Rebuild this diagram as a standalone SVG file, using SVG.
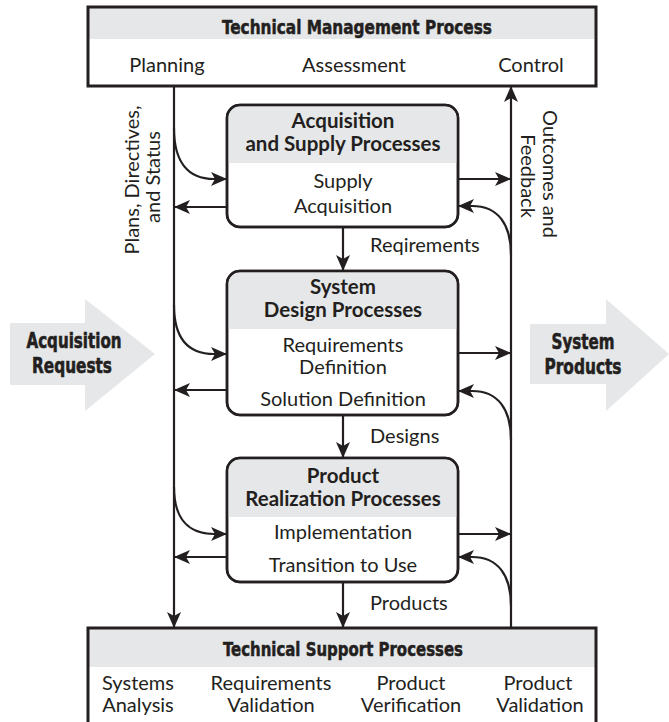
<svg xmlns="http://www.w3.org/2000/svg" width="669" height="722" viewBox="0 0 669 722">
<style>
.t{font-family:Lato,"Open Sans","Liberation Sans",sans-serif;font-size:20px;fill:#231f20}
.b{font-family:Lato,"Open Sans","Liberation Sans",sans-serif;font-size:20.5px;font-weight:bold;fill:#231f20}
.c{font-family:"DejaVu Sans Condensed","DejaVu Sans",sans-serif;font-stretch:condensed;font-size:20px;font-weight:bold;fill:#231f20;stroke:#231f20;stroke-width:0.5}
.big{font-family:"DejaVu Sans Condensed","DejaVu Sans",sans-serif;font-stretch:condensed;font-size:22px;font-weight:bold;fill:#231f20;stroke:#231f20;stroke-width:0.6}
.box{fill:none;stroke:#231f20;stroke-width:3}
.rbox{fill:#fff;stroke:#231f20;stroke-width:2.5}
.g{fill:#e6e7e8}
.ln{fill:none;stroke:#231f20;stroke-width:2.2}
</style>
<defs>
<marker id="ah" markerUnits="userSpaceOnUse" markerWidth="16" markerHeight="14" viewBox="0 0 16 14" refX="15" refY="7" orient="auto">
<path d="M0,0 L16,7 L0,14 L4,7 Z" fill="#231f20"/>
</marker>
</defs>

<g id="acq-requests">
<path class="g" d="M10,323 H85 V299 L155,354 L85,411 V385 H10 Z"/>
<text class="big" x="74" y="348" text-anchor="middle" textLength="95" lengthAdjust="spacingAndGlyphs">Acquisition</text>
<text class="big" x="72" y="373" text-anchor="middle" textLength="80" lengthAdjust="spacingAndGlyphs">Requests</text>
</g>

<g id="system-products">
<path class="g" d="M530,324 H606 V299 L669,354 L606,411 V384 H530 Z"/>
<text class="big" x="583" y="349" text-anchor="middle" textLength="63" lengthAdjust="spacingAndGlyphs">System</text>
<text class="big" x="583" y="374" text-anchor="middle" textLength="77" lengthAdjust="spacingAndGlyphs">Products</text>
</g>

<g id="tech-mgmt">
<rect class="g" x="88" y="7" width="508" height="32"/>
<rect fill="#fff" x="88" y="39" width="508" height="47"/>
<rect class="box" x="88" y="7" width="508" height="79"/>
<text class="c" x="357" y="34" text-anchor="middle" textLength="270" lengthAdjust="spacingAndGlyphs">Technical Management Process</text>
<text class="t" x="167" y="72" text-anchor="middle">Planning</text>
<text class="t" x="354" y="72" text-anchor="middle">Assessment</text>
<text class="t" x="531" y="72" text-anchor="middle">Control</text>
</g>

<g id="tech-support">
<rect class="g" x="88" y="628" width="508" height="39"/>
<rect fill="#fff" x="88" y="667" width="508" height="60"/>
<rect class="box" x="88" y="628" width="508" height="100"/>
<text class="c" x="343" y="656" text-anchor="middle" textLength="240" lengthAdjust="spacingAndGlyphs">Technical Support Processes</text>
<text class="t" x="138" y="690" text-anchor="middle">Systems</text>
<text class="t" x="138" y="712" text-anchor="middle">Analysis</text>
<text class="t" x="271" y="690" text-anchor="middle">Requirements</text>
<text class="t" x="271" y="712" text-anchor="middle">Validation</text>
<text class="t" x="411" y="690" text-anchor="middle">Product</text>
<text class="t" x="411" y="712" text-anchor="middle">Verification</text>
<text class="t" x="538" y="690" text-anchor="middle">Product</text>
<text class="t" x="540" y="712" text-anchor="middle">Validation</text>
</g>

<g id="acq-supply">
<rect class="rbox" x="227" y="105" width="231" height="122" rx="13"/>
<path class="g" d="M228.3,163 V118 A11.7,11.7 0 0 1 240,106.3 H445 A11.7,11.7 0 0 1 456.7,118 V163 Z"/>
<rect class="rbox" style="fill:none" x="227" y="105" width="231" height="122" rx="13"/>
<text class="b" x="343" y="128" text-anchor="middle">Acquisition</text>
<text class="b" x="343" y="151" text-anchor="middle">and Supply Processes</text>
<text class="t" x="343" y="188" text-anchor="middle">Supply</text>
<text class="t" x="343" y="213" text-anchor="middle">Acquisition</text>
</g>

<g id="system-design">
<rect class="rbox" x="227" y="271" width="231" height="144" rx="13"/>
<path class="g" d="M228.3,329 V284 A11.7,11.7 0 0 1 240,272.3 H445 A11.7,11.7 0 0 1 456.7,284 V329 Z"/>
<rect class="rbox" style="fill:none" x="227" y="271" width="231" height="144" rx="13"/>
<text class="b" x="343" y="294" text-anchor="middle">System</text>
<text class="b" x="343" y="317" text-anchor="middle">Design Processes</text>
<text class="t" x="343" y="352" text-anchor="middle">Requirements</text>
<text class="t" x="343" y="374" text-anchor="middle">Definition</text>
<text class="t" x="343" y="406" text-anchor="middle">Solution Definition</text>
</g>

<g id="product-realization">
<rect class="rbox" x="227" y="458" width="231" height="124" rx="13"/>
<path class="g" d="M228.3,517 V471 A11.7,11.7 0 0 1 240,459.3 H445 A11.7,11.7 0 0 1 456.7,471 V517 Z"/>
<rect class="rbox" style="fill:none" x="227" y="458" width="231" height="124" rx="13"/>
<text class="b" x="343" y="483" text-anchor="middle">Product</text>
<text class="b" x="343" y="506" text-anchor="middle">Realization Processes</text>
<text class="t" x="343" y="539" text-anchor="middle">Implementation</text>
<text class="t" x="343" y="572" text-anchor="middle">Transition to Use</text>
</g>

<g id="connectors">
<path class="ln" d="M174,86 V627" marker-end="url(#ah)"/>
<path class="ln" d="M511,628 V87" marker-end="url(#ah)"/>

<path class="ln" d="M174,128 C174,162 188,179 214,179 H226" marker-end="url(#ah)"/>
<path class="ln" d="M227,207 H175" marker-end="url(#ah)"/>
<path class="ln" d="M458,179 H510" marker-end="url(#ah)"/>
<path class="ln" d="M511,255 C511,224 498,206 472,206 H459" marker-end="url(#ah)"/>

<path class="ln" d="M174,305 C174,338 188,354 214,354 H226" marker-end="url(#ah)"/>
<path class="ln" d="M227,390 H175" marker-end="url(#ah)"/>
<path class="ln" d="M458,353 H510" marker-end="url(#ah)"/>
<path class="ln" d="M511,440 C511,409 498,391 472,391 H459" marker-end="url(#ah)"/>

<path class="ln" d="M174,487 C174,518 188,534 214,534 H226" marker-end="url(#ah)"/>
<path class="ln" d="M227,557 H175" marker-end="url(#ah)"/>
<path class="ln" d="M458,534 H510" marker-end="url(#ah)"/>
<path class="ln" d="M511,606 C511,575 498,557 472,557 H459" marker-end="url(#ah)"/>

<path class="ln" d="M343,227 V270" marker-end="url(#ah)"/>
<path class="ln" d="M343,415 V457" marker-end="url(#ah)"/>
<path class="ln" d="M343,582 V627" marker-end="url(#ah)"/>

<text class="t" x="370" y="252">Reqirements</text>
<text class="t" x="370" y="443">Designs</text>
<text class="t" x="370" y="610">Products</text>
<text class="t" transform="translate(139,180) rotate(-90)" text-anchor="middle">Plans, Directives,</text>
<text class="t" transform="translate(160,177) rotate(-90)" text-anchor="middle">and Status</text>
<text class="t" transform="translate(543,174) rotate(90)" text-anchor="middle">Outcomes and</text>
<text class="t" transform="translate(521,176) rotate(90)" text-anchor="middle">Feedback</text>
</g>
</svg>
